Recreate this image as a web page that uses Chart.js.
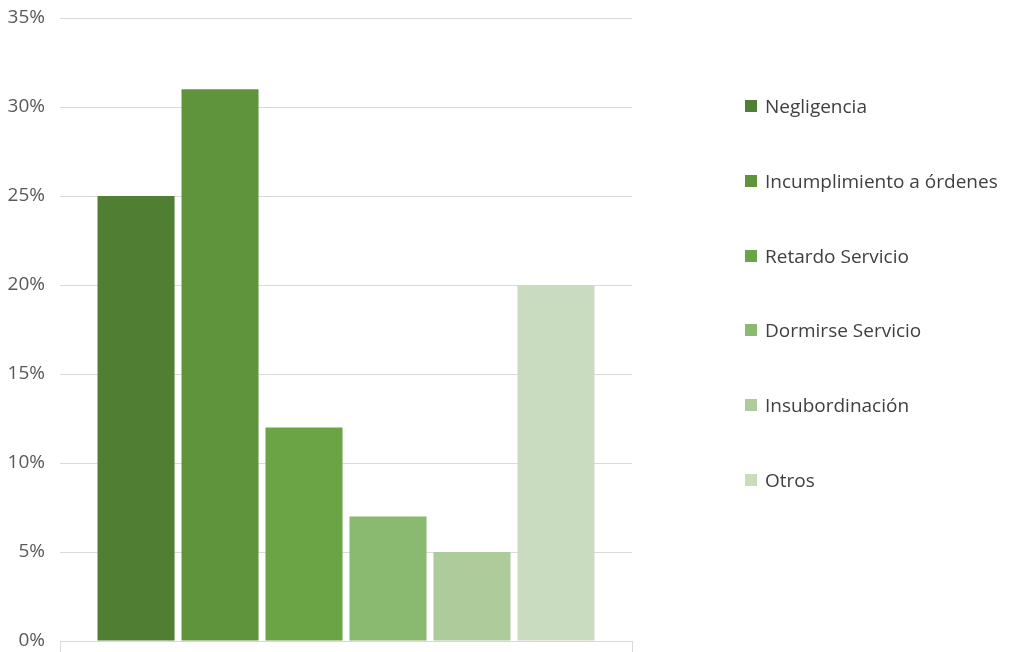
<!DOCTYPE html>
<html>
<head>
<meta charset="utf-8">
<script src="https://cdn.jsdelivr.net/npm/chart.js@4.4.1/dist/chart.umd.min.js"></script>
<style>
  html, body { margin: 0; padding: 0; background: #ffffff; }
  #wrap { position: relative; width: 1013px; height: 652px; }
  #chart { position: absolute; left: 0; top: 0; }
  #legend { position: absolute; left: 745px; top: 93px; margin: 0; padding: 0; list-style: none;
            font-family: "Open Sans", sans-serif; font-size: 19px; line-height: 26px; color: #404040; }
  #legend li { height: 74.8px; display: flex; align-items: flex-start; white-space: nowrap; }
  #legend .box { width: 12px; height: 12px; margin-top: 7px; margin-right: 8px; flex: none; }
</style>
</head>
<body>
<div id="wrap">
  <canvas id="chart" width="1013" height="652"></canvas>
  <ul id="legend"></ul>
</div>
<script>
// Causes and their share of cases (%)
const causes = ["Negligencia", "Incumplimiento a órdenes", "Retardo Servicio", "Dormirse Servicio", "Insubordinación", "Otros"];
const shares = [25, 31, 12, 7, 5, 20];
const fills = ["#507e32", "#5f943c", "#6aa444", "#8aba6f", "#adcb9b", "#c9dcc0"];
const yTicks = [0, 5, 10, 15, 20, 25, 30, 35];

const datasets = causes.map((name, i) => ({
  label: name,
  data: [shares[i]],
  backgroundColor: fills[i],
  borderWidth: 0,
  categoryPercentage: 0.881,
  barPercentage: 0.917
}));

const chart = new Chart(document.getElementById("chart"), {
  type: "bar",
  data: { labels: [""], datasets },
  options: {
    responsive: false,
    animation: false,
    layout: { padding: { top: 18, right: 381, left: 0, bottom: 0 } },
    plugins: { legend: { display: false }, tooltip: { enabled: false } },
    scales: {
      x: {
        offset: true,
        afterFit: (axis) => { axis.height = 11; axis.paddingLeft = 0; axis.paddingRight = 0; },
        grid: { display: true, drawOnChartArea: false, drawTicks: true, tickLength: 11, color: "#d9d9d9", offset: true },
        border: { display: true, color: "#d9d9d9", width: 1 },
        ticks: { display: false, padding: 0 }
      },
      y: {
        min: 0, max: 35,
        afterFit: (axis) => { axis.width = 60; axis.paddingTop = 0; axis.paddingBottom = 0; },
        afterBuildTicks: (axis) => { axis.ticks = yTicks.map(v => ({ value: v })); },
        grid: { color: "#d9d9d9", drawTicks: false, lineWidth: 1 },
        border: { display: false },
        ticks: {
          padding: 15,
          color: "#595959",
          font: { family: "Open Sans", size: 19 },
          callback: (v) => v + "%"
        }
      }
    }
  }
});

// Legend list built from the same arrays
const legend = document.getElementById("legend");
causes.forEach((name, i) => {
  const li = document.createElement("li");
  const box = document.createElement("span");
  box.className = "box";
  box.style.background = fills[i];
  li.appendChild(box);
  li.appendChild(document.createTextNode(name));
  legend.appendChild(li);
});
</script>
</body>
</html>
